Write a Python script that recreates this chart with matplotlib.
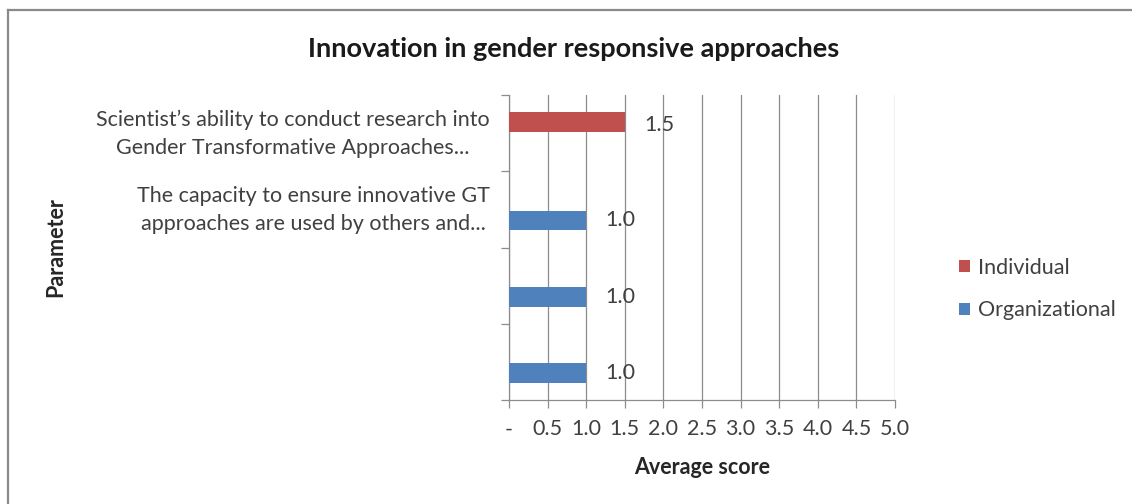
import matplotlib
matplotlib.use("Agg")
import matplotlib.pyplot as plt
import matplotlib.transforms as mtransforms
from matplotlib.lines import Line2D
from matplotlib.patches import Patch

plt.rcParams['font.family'] = ['Lato', 'DejaVu Sans']

# Data
categories = [
    "Scientist\u2019s ability to conduct research into\nGender Transformative Approaches...",
    "The capacity to ensure innovative GT\napproaches are used by others and...",
    "",
    "",
]
individual = [1.5, 0, 0, 0]
organizational = [0, 1.0, 1.0, 1.0]
series_names = ["Individual", "Organizational"]
x_ticks = [0, 0.5, 1.0, 1.5, 2.0, 2.5, 3.0, 3.5, 4.0, 4.5, 5.0]
x_tick_labels = ["-", "0.5", "1.0", "1.5", "2.0", "2.5", "3.0", "3.5", "4.0", "4.5", "5.0"]

RED = "#C0504D"
BLUE = "#4F81BD"
TEXT = "#404040"
GRID = "#8C8C8C"
FS = 15.5

fig = plt.figure(figsize=(11.32, 5.04), dpi=100)
W, H = 1132, 504
ax = fig.add_axes([509 / W, 1 - 400 / H, (895 - 509) / W, (400 - 95) / H])

pos = list(range(len(categories)))
bh = 0.26
off = 0.145
for i, (vi, vo) in enumerate(zip(individual, organizational)):
    if vi:
        ax.barh(i - off, vi, height=bh, color=RED, zorder=3)
        ax.annotate(f"{vi:.1f}", (vi, i - off), xytext=(14, -2), textcoords="offset points",
                    ha="left", va="center", fontsize=FS, color=TEXT)
    if vo:
        ax.barh(i + off, vo, height=bh, color=BLUE, zorder=3)
        ax.annotate(f"{vo:.1f}", (vo, i + off), xytext=(14, 0), textcoords="offset points",
                    ha="left", va="center", fontsize=FS, color=TEXT)

ax.set_xlim(0, 5.0)
ax.set_ylim(len(categories) - 0.5, -0.5)
ax.set_xticks(x_ticks)
ax.set_xticklabels(x_tick_labels, fontsize=FS, color=TEXT)
ax.grid(axis="x", color=GRID, linewidth=0.9, zorder=0)

# Category axis: labels centred on categories, ticks on band boundaries
ax.set_yticks(pos)
ax.set_yticklabels(categories, fontsize=FS, color=TEXT, multialignment="center",
                   linespacing=1.5)
ax.tick_params(axis="y", length=0, pad=14)
shift = mtransforms.ScaledTranslation(0, 5 / 100, fig.dpi_scale_trans)
for lbl in ax.get_yticklabels():
    lbl.set_transform(lbl.get_transform() + shift)
ax.set_yticks([p - 0.5 for p in pos] + [len(pos) - 0.5], minor=True)
ax.tick_params(axis="y", which="minor", length=6, color=GRID, width=0.9)
ax.tick_params(axis="x", length=6, color=GRID, width=0.9, pad=8, direction="out")

for side in ["top", "right"]:
    ax.spines[side].set_visible(False)
for side in ["left", "bottom"]:
    ax.spines[side].set_color(GRID)
    ax.spines[side].set_linewidth(0.9)

ax.set_xlabel("Average score", fontsize=FS, fontweight="bold", color="#262626", labelpad=13)

fig.text(56 / W, 1 - 247 / H, "Parameter", rotation=90, ha="center", va="center",
         fontsize=FS, fontweight="bold", color="#262626")

fig.text(574 / W, 1 - 49 / H, "Innovation in gender responsive approaches",
         ha="center", va="center", fontsize=19.5, fontweight="bold", color="#1a1a1a")

handles = [Patch(facecolor=RED, edgecolor="none"), Patch(facecolor=BLUE, edgecolor="none")]
fig.legend(handles, series_names, loc="center left", bbox_to_anchor=(940 / W, 1 - 289 / H),
           frameon=False, fontsize=FS, labelcolor=TEXT, handlelength=0.5, handleheight=0.5,
           handletextpad=0.35, labelspacing=1.05)

# Outer chart border
fig.add_artist(Line2D([8 / W, 8 / W], [0, 1 - 10 / H], transform=fig.transFigure,
                      color="#8a8a8a", linewidth=1.6))
fig.add_artist(Line2D([8 / W, 1], [1 - 10 / H, 1 - 10 / H], transform=fig.transFigure,
                      color="#8a8a8a", linewidth=1.6))

fig.savefig("out.png", dpi=100)
